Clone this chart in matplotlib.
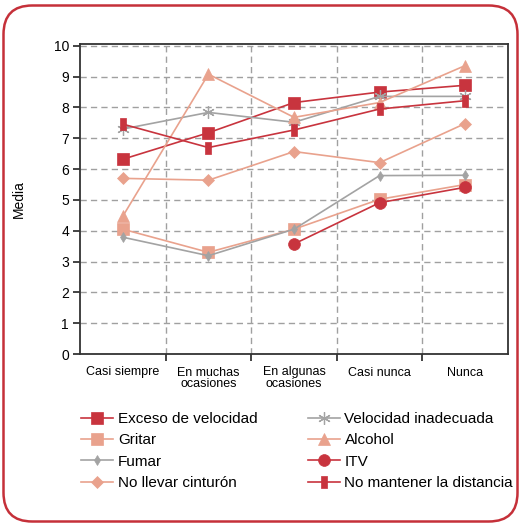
import matplotlib
matplotlib.use("Agg")
import matplotlib.pyplot as plt
from matplotlib.patches import FancyBboxPatch
from matplotlib.path import Path
import numpy as np

plt.rcParams['font.family'] = ['Liberation Sans', 'DejaVu Sans']

categories = ["Casi siempre", "En muchas\nocasiones", "En algunas\nocasiones", "Casi nunca", "Nunca"]

exceso_velocidad = [6.32, 7.18, 8.16, 8.50, 8.72]
velocidad_inadecuada = [7.30, 7.84, 7.52, 8.36, 8.36]
gritar = [4.05, 3.30, 4.05, 5.02, 5.50]
alcohol = [4.47, 9.08, 7.68, 8.16, 9.36]
fumar = [3.79, 3.19, 4.05, 5.79, 5.80]
itv = [np.nan, np.nan, 3.57, 4.91, 5.41]
no_cinturon = [5.70, 5.64, 6.57, 6.21, 7.48]
no_distancia = [7.46, 6.70, 7.27, 7.95, 8.22]

DARK = "#C8343E"
SALMON = "#E9A28D"
GRAY = "#A3A3A3"

bar_marker = Path([(-0.22, -0.5), (0.22, -0.5), (0.22, 0.5), (-0.22, 0.5), (-0.22, -0.5)],
                  [Path.MOVETO, Path.LINETO, Path.LINETO, Path.LINETO, Path.CLOSEPOLY])

series = [
    ("Exceso de velocidad", exceso_velocidad, DARK, 's', 8.5),
    ("Gritar", gritar, SALMON, 's', 8.5),
    ("Fumar", fumar, GRAY, 'd', 5),
    ("No llevar cinturón", no_cinturon, SALMON, 'D', 6),
    ("Velocidad inadecuada", velocidad_inadecuada, GRAY, (6, 2, 0), 9),
    ("Alcohol", alcohol, SALMON, '^', 9),
    ("ITV", itv, DARK, 'o', 8.5),
    ("No mantener la distancia", no_distancia, DARK, bar_marker, 9),
]

fig = plt.figure(figsize=(5.22, 5.25), dpi=100)
ax = fig.add_axes([80/522, 1-354/525, 428/522, 310/525])

x = np.arange(len(categories))
handles = []
for name, vals, col, mk, ms in series:
    mew = 0.9 if mk == (6, 2, 0) else 0.5
    h, = ax.plot(x, vals, color=col, lw=1.2, marker=mk, markersize=ms,
                 markerfacecolor=col, markeredgecolor=col, markeredgewidth=mew,
                 label=name, zorder=3)
    handles.append(h)

ax.set_xlim(-0.5, 4.5)
ax.set_ylim(0, 10.06)
ax.set_yticks(range(0, 11))
ax.set_xticks([0.5, 1.5, 2.5, 3.5])
ax.set_xticklabels([])
ax.set_xticks(x, minor=True)
ax.set_xticklabels(categories, minor=True, fontsize=9, linespacing=0.95)
ax.tick_params(axis='x', which='minor', length=0, pad=9)
ax.tick_params(axis='x', which='major', length=5, width=1.2, direction='out', color='#222')
ax.tick_params(axis='y', length=5, width=1.2, direction='out', labelsize=10, pad=3, color='#222')
ax.grid(True, which='major', color='#A0A0A0', linestyle=(0, (4.5, 3)), lw=1.0, zorder=0)
for s in ax.spines.values():
    s.set_color('#333333')
    s.set_linewidth(1.3)
ax.set_ylabel("Media", fontsize=10, labelpad=20)

fig.legend(handles=handles, ncol=2, loc='upper left', bbox_to_anchor=(75/522, 1-406/525),
           frameon=False, fontsize=11, handlelength=2.1, handletextpad=0.3,
           labelspacing=0.48, columnspacing=3.3, borderaxespad=0)

border = FancyBboxPatch((3.5/522, 3.5/525), 514/522, 516/525, transform=fig.transFigure,
                        boxstyle="round,pad=0,rounding_size=0.055", fill=False,
                        edgecolor="#C53039", linewidth=1.8)
fig.add_artist(border)

fig.savefig("out.png", dpi=100)
